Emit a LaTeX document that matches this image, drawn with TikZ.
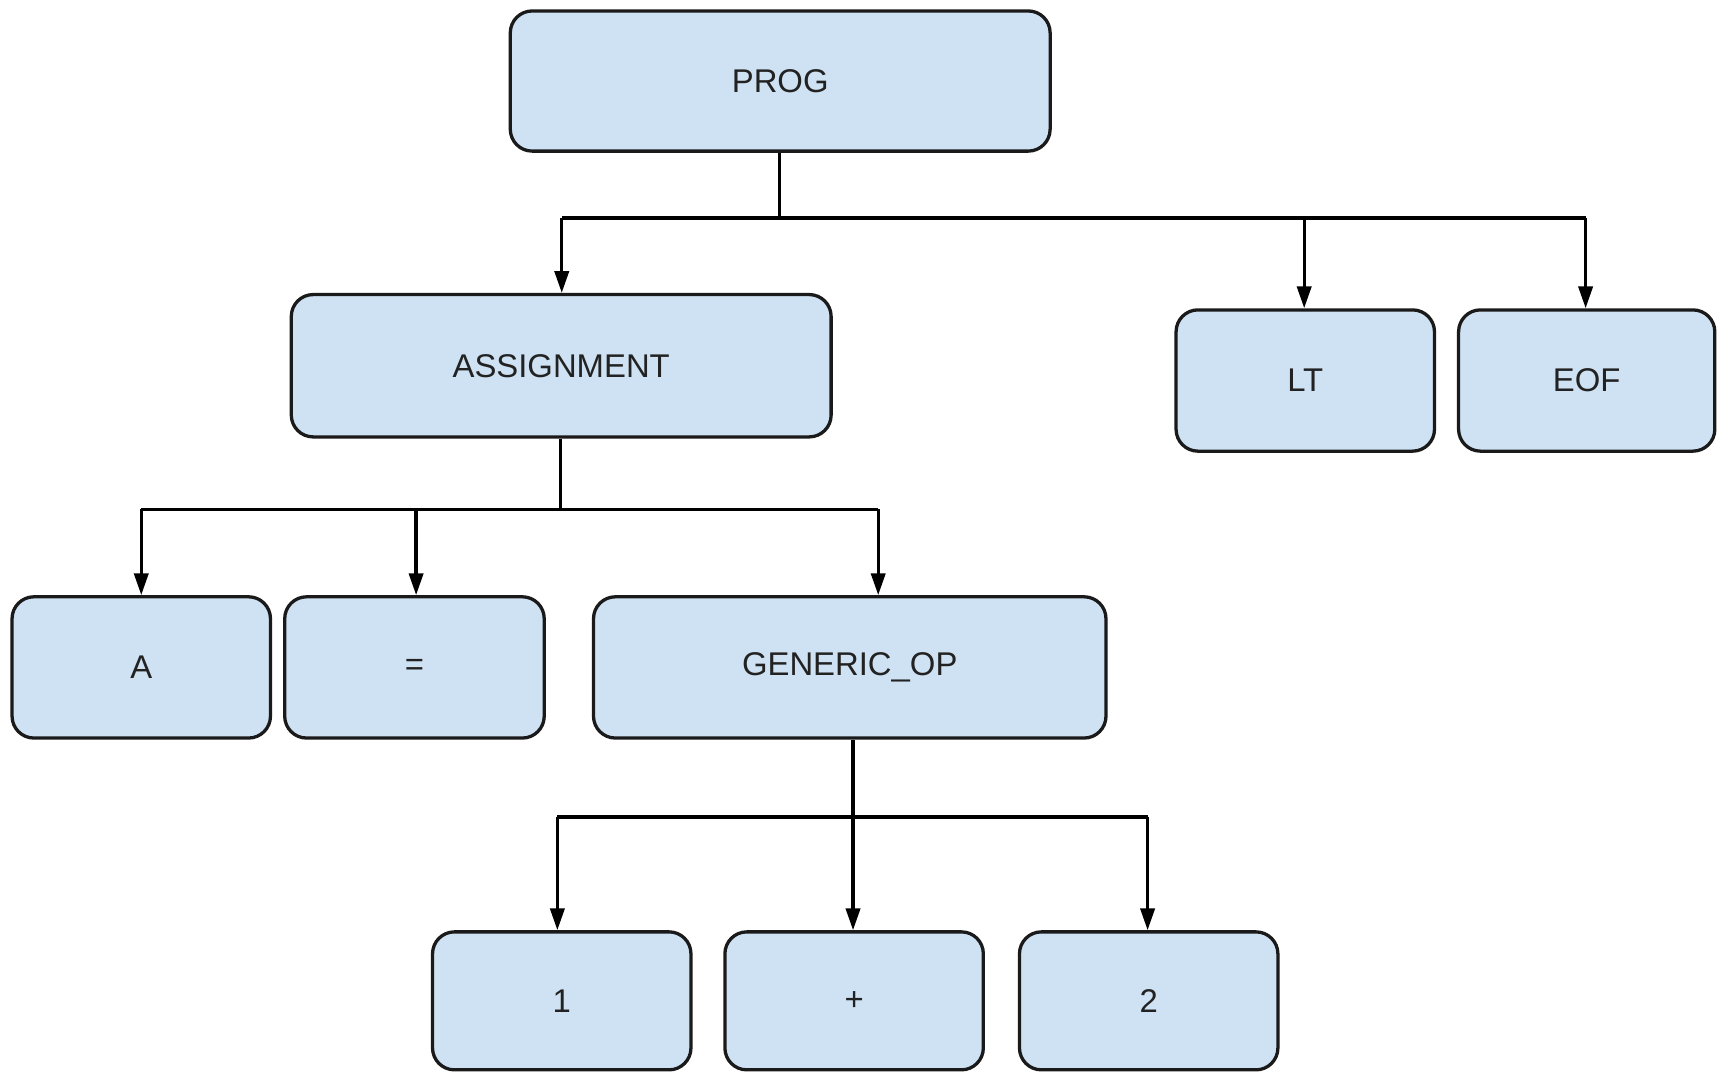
\documentclass[tikz,border=0pt]{standalone}
\usepackage{fontspec}
\setmainfont{Liberation Sans}
\usetikzlibrary{arrows.meta}
\definecolor{boxfill}{HTML}{CFE2F3}
\definecolor{boxline}{HTML}{1A1A1A}
\definecolor{labeltext}{HTML}{222222}
\tikzset{
  treebox/.style={draw=boxline, fill=boxfill, line width=3pt, rounded corners=20pt,
    inner sep=0pt, text=labeltext, font=\fontsize{30}{36}\selectfont},
  link/.style={draw=black, line width=3pt},
  arr/.style={link, -{Triangle[length=20pt,width=13pt]}},
}
\newcommand{\tbox}[6]{% name, x1, y1, x2, y2, label
  \node[treebox, minimum width={#4pt-#2pt}, minimum height={#5pt-#3pt}]
    (#1) at ({(#2+#4)/2},{(#3+#5)/2}) {#6};}
\begin{document}
\begin{tikzpicture}[x=1pt,y=-1pt]
\useasboundingbox (0,0) rectangle (1568,979);

% nodes of the parse tree
\tbox{prog}{466}{10}{959}{138}{PROG}
\tbox{assign}{266}{269}{759}{399}{ASSIGNMENT}
\tbox{lt}{1074}{283}{1310}{412}{LT}
\tbox{eof}{1332}{283}{1566}{412}{EOF}
\tbox{a}{11}{545}{247}{674}{A}
\tbox{eq}{260}{545}{497}{674}{=}
\tbox{gop}{542}{545}{1010}{674}{GENERIC\_OP}
\tbox{one}{395}{851}{631}{977}{1}
\tbox{plus}{662}{851}{898}{977}{+}
\tbox{two}{931}{851}{1167}{977}{2}

% bus lines
\coordinate (pj) at (712,199);
\coordinate (p1) at (513,199);
\coordinate (p2) at (1191,199);
\coordinate (p3) at (1448,199);
\coordinate (aj) at (512,465);
\coordinate (a1) at (129,465);
\coordinate (a2) at (380,465);
\coordinate (a3) at (802,465);
\coordinate (gj) at (779,746);
\coordinate (g1) at (509,746);
\coordinate (g2) at (779,746);
\coordinate (g3) at (1048,746);

% PROG -> children
\draw[link] (pj |- prog.south) -- (pj);
\draw[link] (p1) -- (p3);
\draw[arr] (p1) -- (p1 |- assign.north);
\draw[arr] (p2) -- (p2 |- lt.north);
\draw[arr] (p3) -- (p3 |- eof.north);

% ASSIGNMENT -> children
\draw[link] (aj |- assign.south) -- (aj);
\draw[link] (a1) -- (a3);
\draw[arr] (a1) -- (a1 |- a.north);
\draw[arr] (a2) -- (a2 |- eq.north);
\draw[arr] (a3) -- (a3 |- gop.north);

% GENERIC_OP -> children
\draw[link] (g1) -- (g3);
\draw[arr] (gj |- gop.south) -- (g2 |- plus.north);
\draw[arr] (g1) -- (g1 |- one.north);
\draw[arr] (g3) -- (g3 |- two.north);
\end{tikzpicture}
\end{document}
